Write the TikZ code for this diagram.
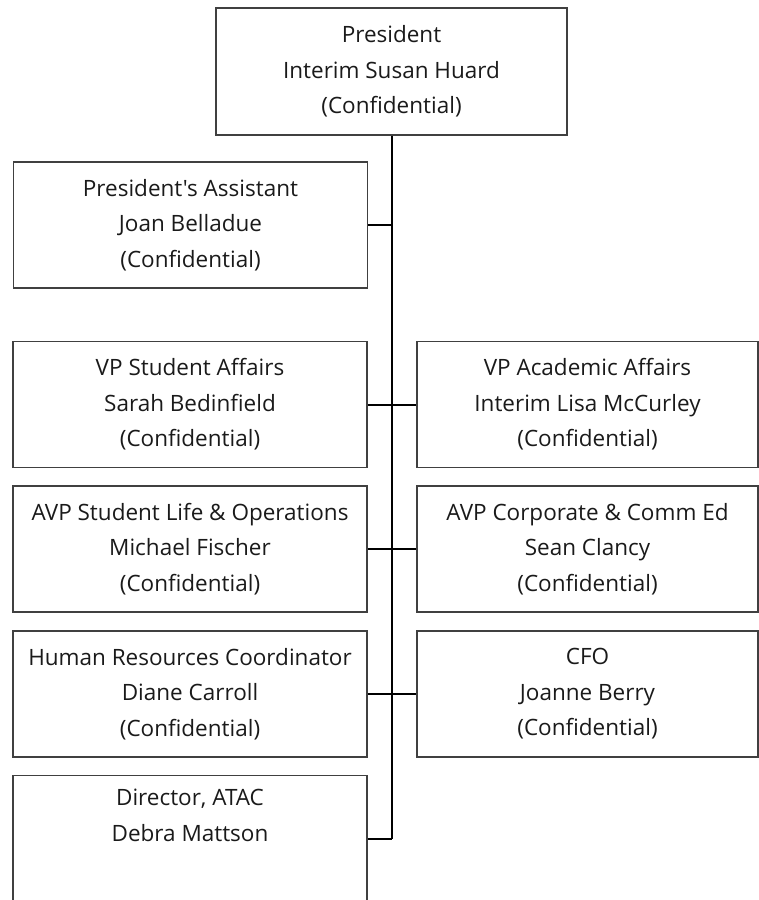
\documentclass[tikz,border=0pt]{standalone}
\usepackage{fontspec}
\setmainfont{Open Sans}[Ligatures=TeXOff]
\definecolor{boxline}{HTML}{404040}
\definecolor{txt}{HTML}{1A1A1A}
\begin{document}
\begin{tikzpicture}[x=1pt,y=-1pt,
  card/.style={draw=boxline, line width=1.4pt, rectangle, inner sep=0pt,
    minimum height=126pt, align=center, text=txt,
    font=\fontsize{22.5}{35.5}\selectfont},
  lcard/.style={card, minimum width=354pt},
  rcard/.style={card, minimum width=341pt},
  link/.style={draw=black, line width=2pt}]
\useasboundingbox (0,0) rectangle (759,900);

% top of the chart
\node[card, minimum width=351pt, minimum height=127pt] (pres) at (391.5,71.5)
  {President\\Interim Susan Huard\\(Confidential)};

% left column
\node[lcard] (asst) at (190.5,225) {President's Assistant\\Joan Belladue\\(Confidential)};
\node[lcard] (vpsa) at (190,404.5) {VP Student Affairs\\Sarah Bedinfield\\(Confidential)};
\node[lcard] (avpsl) at (190,549) {AVP Student Life \& Operations\\Michael Fischer\\(Confidential)};
\node[lcard] (hr) at (190,694) {Human Resources Coordinator\\Diane Carroll\\(Confidential)};
\node[lcard] (dir) at (190,838.5) {Director, ATAC\\Debra Mattson\\\strut};

% right column
\node[rcard] (vpaa) at (587.5,404.5) {VP Academic Affairs\\Interim Lisa McCurley\\(Confidential)};
\node[rcard] (avpce) at (587.5,549) {AVP Corporate \& Comm Ed\\Sean Clancy\\(Confidential)};
\node[rcard] (cfo) at (587.5,694) {CFO\\Joanne Berry\\(Confidential)};

% reporting lines
\coordinate (trunk) at (392,0);
\draw[link] (pres.south -| trunk) -- (dir.east -| trunk);
\draw[link] (asst.east) -- (asst.east -| trunk);
\draw[link] (vpsa.east) -- (vpaa.west);
\draw[link] (avpsl.east) -- (avpce.west);
\draw[link] (hr.east) -- (cfo.west);
\draw[link] (dir.east) -- (dir.east -| trunk);
\end{tikzpicture}
\end{document}
